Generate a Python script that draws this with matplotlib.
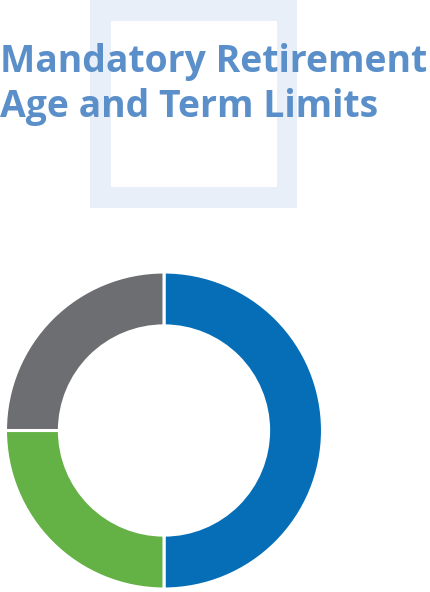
import matplotlib
matplotlib.use("Agg")
import matplotlib.pyplot as plt
from matplotlib.patches import Rectangle

W, H = 431, 592
categories = ["Category A", "Category B", "Category C"]
values = [50, 25, 25]
colors = ["#066EB6", "#64B146", "#6D6E71"]
title_lines = ["Mandatory Retirement", "Age and Term Limits"]

fig = plt.figure(figsize=(W / 100, H / 100), dpi=100)
fig.patch.set_facecolor("white")

# decorative square outline
bg = fig.add_axes([0, 0, 1, 1])
bg.set_xlim(0, W)
bg.set_ylim(H, 0)
bg.axis("off")
bg.add_patch(Rectangle((90, 0), 207, 208, facecolor="#E8EFF8", edgecolor="none"))
bg.add_patch(Rectangle((111, 21), 166, 166, facecolor="white", edgecolor="none"))

for i, line in enumerate(title_lines):
    bg.text(0.5, 72 + i * 45, line, fontsize=26.9, fontweight="bold",
            family=["Open Sans", "DejaVu Sans"], color="#5B8FC9",
            ha="left", va="baseline")

# donut
cx, cy, r = 164, 430.5, 158.5
ax = fig.add_axes([(cx - r) / W, (H - cy - r) / H, 2 * r / W, 2 * r / H])
ax.pie(values, colors=colors, startangle=90, counterclock=False, radius=1,
       wedgeprops=dict(width=0.34, edgecolor="white", linewidth=2.2))
ax.set_xlim(-1, 1)
ax.set_ylim(-1, 1)
ax.set_aspect("auto")
ax.axis("off")

fig.savefig("out.png", dpi=100, facecolor="white")
